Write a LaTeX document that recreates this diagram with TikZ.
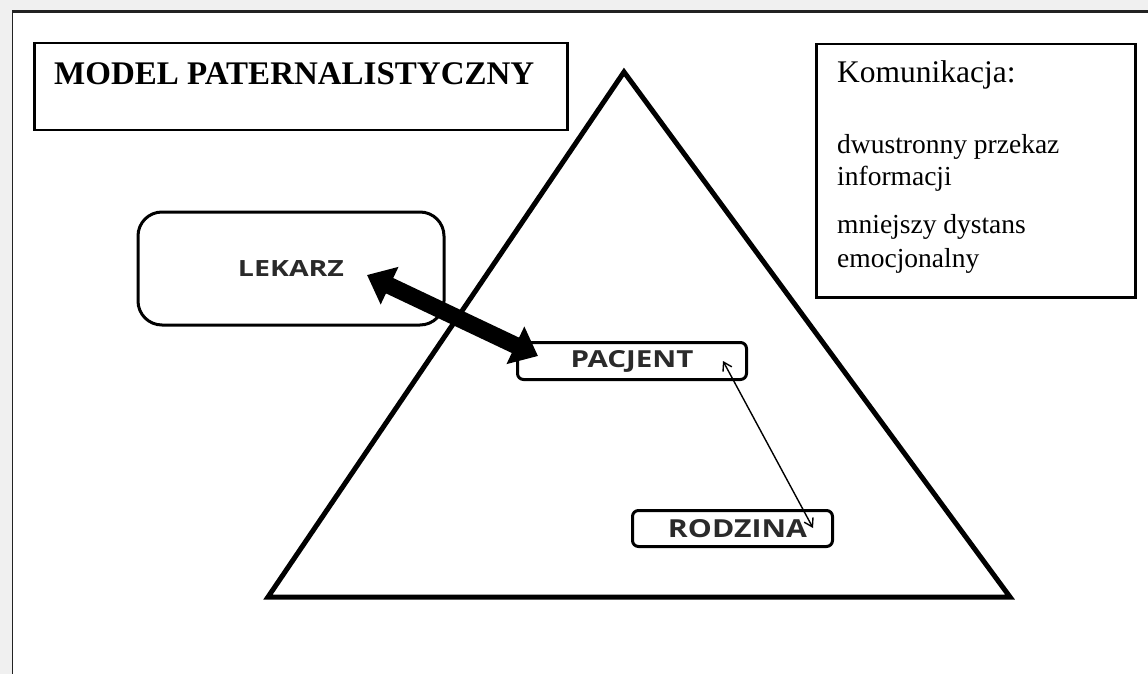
\documentclass[tikz,border=0pt]{standalone}
\usepackage{fontspec}
\usepackage{graphicx}
\setmainfont{Liberation Serif}
\newfontfamily\lblfont{Open Sans}
\usetikzlibrary{arrows.meta}
\definecolor{bggray}{HTML}{F0F0F0}
\definecolor{lblcol}{HTML}{2A2A2A}
\definecolor{framecol}{HTML}{222222}
\tikzset{
  plainbox/.style={draw=black, line width=2.5pt, fill=white, inner sep=0pt},
  roundbox/.style={draw=black, line width=3pt, fill=white, inner sep=0pt, text=lblcol, font=\lblfont\bfseries},
  bigarrow/.style={line width=17pt, {Triangle[width=40pt,length=25pt]}-{Triangle[width=40pt,length=25pt]}},
  thinarrow/.style={line width=1.4pt, {Straight Barb[width=10pt,length=8pt]}-{Straight Barb[width=10pt,length=8pt]}},
}
\begin{document}
\begin{tikzpicture}[x=1pt,y=-1pt]
\useasboundingbox (0,0) rectangle (1148,674);
\fill[bggray] (0,0) rectangle (1148,674);
\fill[white] (12,11) rectangle (1148,674);
\draw[line width=3pt, framecol] (12,11.5) -- (1148,11.5);
\draw[line width=1.3pt, framecol] (12.5,11) -- (12.5,674);

% title
\node[plainbox, minimum width=533pt, minimum height=87pt, anchor=north west] (titlebox) at (33,42) {};
\node[anchor=base west, inner sep=0pt, font=\bfseries\fontsize{33}{40}\selectfont] (title) at (54,85) {MODEL PATERNALISTYCZNY};

% communication box
\node[plainbox, minimum width=319pt, minimum height=253pt, anchor=north west] (kombox) at (815,43) {};
\node[anchor=base west, inner sep=0pt, font=\fontsize{31.5}{36}\selectfont] (komhead) at (837,83) {Komunikacja:};
\node[anchor=base west, inner sep=0pt, align=left, font=\fontsize{27.5}{32}\selectfont] (kom1) at (837,185) {dwustronny przekaz\\informacji};
\node[anchor=base west, inner sep=0pt, align=left, font=\fontsize{27.5}{34}\selectfont] (kom2) at (837,267) {mniejszy dystans\\emocjonalny};

% triangle
\draw[line width=5pt, line join=miter] (624,72) -- (1010,597) -- (268,597) -- cycle;

% boxes
\node[roundbox, rounded corners=24pt, minimum width=306pt, minimum height=113pt] (lekarz) at (291,268.5) {\resizebox{106pt}{16pt}{LEKARZ}};
\node[roundbox, rounded corners=6pt, minimum width=229pt, minimum height=37pt] (pacjent) at (632,361) {\resizebox{123pt}{17pt}{PACJENT}};
\node[roundbox, rounded corners=6pt, minimum width=200pt, minimum height=36pt] (rodzina) at (732.5,528.5) {\hspace*{10pt}\resizebox{139pt}{18pt}{RODZINA}};

% arrows
\coordinate (lektip) at (367,275);
\coordinate (pactip) at (538,356);
\draw[bigarrow] (lektip) -- (pactip);
\coordinate (pactip2) at (723,361);
\coordinate (rodtip) at (813,528);
\draw[thinarrow] (pactip2) -- (rodtip);
\end{tikzpicture}
\end{document}
